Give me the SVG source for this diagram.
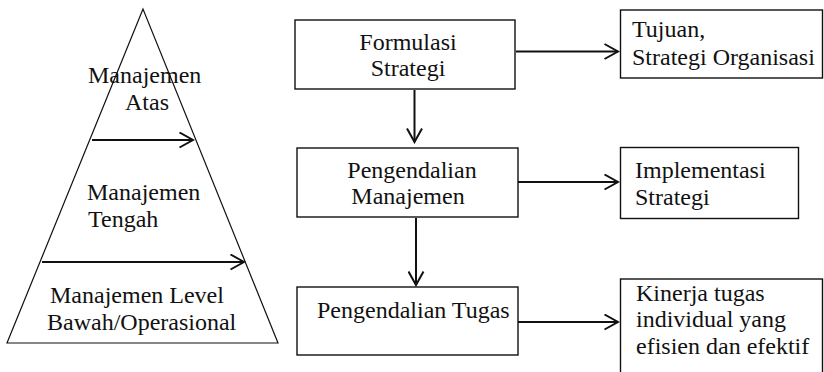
<svg xmlns="http://www.w3.org/2000/svg" width="824" height="372" viewBox="0 0 824 372">
<style>
text{font-family:"Liberation Serif","Times New Roman",serif;font-size:24px;fill:#111}
.box{fill:#fff;stroke:#111;stroke-width:1.4}
.tri{fill:#fff;stroke:#111;stroke-width:1.2}
.conn{fill:none;stroke:#111;stroke-width:2}
</style>
<defs>
<marker id="arr" viewBox="0 0 16 17" refX="14.5" refY="8.5" markerWidth="16" markerHeight="17" markerUnits="userSpaceOnUse" orient="auto">
<path d="M1,1 L14.5,8.5 L1,16" fill="none" stroke="#111" stroke-width="2"/>
</marker>
</defs>
<g id="pyramid">
<polygon class="tri" points="143,9 7,343 278,343"/>
<text x="88" y="83">Manajemen</text>
<text x="125" y="110">Atas</text>
<text x="87" y="200">Manajemen</text>
<text x="88" y="227">Tengah</text>
<text x="50" y="303">Manajemen Level</text>
<text x="47" y="330">Bawah/Operasional</text>
</g>
<g id="formulasi">
<rect class="box" x="295" y="20" width="220" height="69"/>
<text x="408" y="50" text-anchor="middle">Formulasi</text>
<text x="408" y="76" text-anchor="middle">Strategi</text>
</g>
<g id="pengendalian-manajemen">
<rect class="box" x="297" y="148" width="221" height="69"/>
<text x="412" y="178" text-anchor="middle">Pengendalian</text>
<text x="408" y="204" text-anchor="middle">Manajemen</text>
</g>
<g id="pengendalian-tugas">
<rect class="box" x="297" y="287" width="221" height="68"/>
<text x="317" y="318">Pengendalian Tugas</text>
</g>
<g id="tujuan">
<rect class="box" x="620.5" y="10" width="202" height="68"/>
<text x="632" y="37">Tujuan,</text>
<text x="632" y="65">Strategi Organisasi</text>
</g>
<g id="implementasi">
<rect class="box" x="620.5" y="147.5" width="178" height="71"/>
<text x="635" y="178">Implementasi</text>
<text x="635" y="205">Strategi</text>
</g>
<g id="kinerja">
<rect class="box" x="620.5" y="279" width="202" height="110"/>
<text x="636" y="301">Kinerja tugas</text>
<text x="636" y="327">individual yang</text>
<text x="636" y="354">efisien dan efektif</text>
</g>
<g id="connectors">
<path class="conn" d="M92,140 L193,140" marker-end="url(#arr)"/>
<path class="conn" d="M42,262 L244,262" marker-end="url(#arr)"/>
<path class="conn" d="M516,51.5 L618,51.5" marker-end="url(#arr)"/>
<path class="conn" d="M518,182 L618,182" marker-end="url(#arr)"/>
<path class="conn" d="M518,322 L618,322" marker-end="url(#arr)"/>
<path class="conn" d="M414.5,90 L414.5,142" marker-end="url(#arr)"/>
<path class="conn" d="M416,218 L416,285" marker-end="url(#arr)"/>
</g>
</svg>
